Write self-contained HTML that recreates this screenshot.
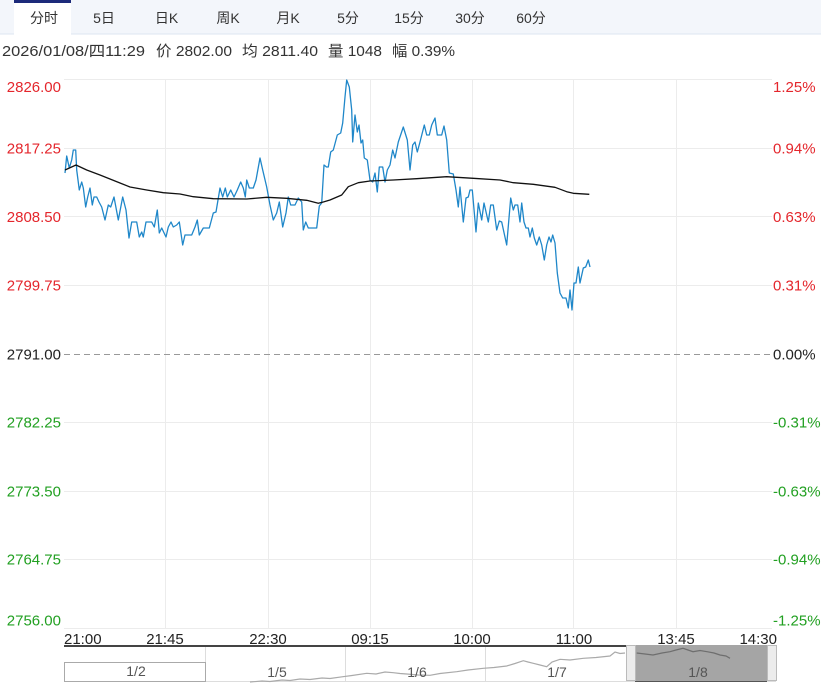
<!DOCTYPE html>
<html><head><meta charset="utf-8"><style>
html,body{margin:0;padding:0;background:#fff;}
svg{display:block;}
text{font-family:"Liberation Sans","Noto Sans CJK SC",sans-serif;}
</style></head><body>
<svg width="821" height="684" viewBox="0 0 821 684" xmlns="http://www.w3.org/2000/svg">
<!-- tab bar -->
<rect x="0" y="0" width="821" height="34" fill="#f3f6fb"/>
<line x1="0" y1="34" x2="821" y2="34" stroke="#dde5f0" stroke-width="1"/>
<rect x="14" y="0" width="57" height="35" fill="#fff"/>
<rect x="14" y="0" width="57" height="3" fill="#1c2a7a"/>
<g font-size="14" fill="#333" text-anchor="middle">
<text x="44" y="23">分时</text>
<text x="104" y="23">5日</text>
<text x="166.5" y="23">日K</text>
<text x="228" y="23">周K</text>
<text x="288" y="23">月K</text>
<text x="348" y="23">5分</text>
<text x="409" y="23">15分</text>
<text x="470" y="23">30分</text>
<text x="531" y="23">60分</text>
</g>
<!-- info line -->
<g font-size="15" fill="#333">
<text x="2" y="56" textLength="143" lengthAdjust="spacingAndGlyphs">2026/01/08/四11:29</text>
<text x="156" y="56" textLength="76" lengthAdjust="spacingAndGlyphs">价 2802.00</text>
<text x="242" y="56" textLength="76" lengthAdjust="spacingAndGlyphs">均 2811.40</text>
<text x="328" y="56" textLength="54" lengthAdjust="spacingAndGlyphs">量 1048</text>
<text x="392" y="56" textLength="63" lengthAdjust="spacingAndGlyphs">幅 0.39%</text>
</g>
<!-- grid -->
<g stroke="#ececec" stroke-width="1">
<line x1="64" y1="79.5" x2="772" y2="79.5"/>
<line x1="64" y1="148.5" x2="772" y2="148.5"/>
<line x1="64" y1="216.5" x2="772" y2="216.5"/>
<line x1="64" y1="285.5" x2="772" y2="285.5"/>
<line x1="64" y1="422.5" x2="772" y2="422.5"/>
<line x1="64" y1="491.5" x2="772" y2="491.5"/>
<line x1="64" y1="559.5" x2="772" y2="559.5"/>
<line x1="64" y1="628.5" x2="772" y2="628.5"/>
<line x1="165.5" y1="79" x2="165.5" y2="628"/>
<line x1="268.5" y1="79" x2="268.5" y2="628"/>
<line x1="370.5" y1="79" x2="370.5" y2="628"/>
<line x1="472.5" y1="79" x2="472.5" y2="628"/>
<line x1="573.5" y1="79" x2="573.5" y2="628"/>
<line x1="676.5" y1="79" x2="676.5" y2="628"/>
</g>
<line x1="64" y1="354.5" x2="772" y2="354.5" stroke="#999" stroke-width="1" stroke-dasharray="6,4"/>
<!-- left labels -->
<g font-size="15" text-anchor="end">
<text x="61" y="92" fill="#e4262c">2826.00</text>
<text x="61" y="153.5" fill="#e4262c">2817.25</text>
<text x="61" y="222" fill="#e4262c">2808.50</text>
<text x="61" y="290.5" fill="#e4262c">2799.75</text>
<text x="61" y="359.5" fill="#222">2791.00</text>
<text x="61" y="427.5" fill="#22a022">2782.25</text>
<text x="61" y="496.5" fill="#22a022">2773.50</text>
<text x="61" y="564.5" fill="#22a022">2764.75</text>
<text x="61" y="625.5" fill="#22a022">2756.00</text>
</g>
<g font-size="15">
<text x="773" y="92" fill="#e4262c">1.25%</text>
<text x="773" y="153.5" fill="#e4262c">0.94%</text>
<text x="773" y="222" fill="#e4262c">0.63%</text>
<text x="773" y="290.5" fill="#e4262c">0.31%</text>
<text x="773" y="359.5" fill="#222">0.00%</text>
<text x="773" y="427.5" fill="#22a022">-0.31%</text>
<text x="773" y="496.5" fill="#22a022">-0.63%</text>
<text x="773" y="564.5" fill="#22a022">-0.94%</text>
<text x="773" y="625.5" fill="#22a022">-1.25%</text>
</g>
<!-- series -->
<polyline fill="none" stroke="#1f87c9" stroke-width="1.3" stroke-linejoin="round" points="65,173 66.7,156 69.3,168 71.7,160 73.3,150 75.7,150 76.7,170 79.3,190 81.7,182 83.3,188 85.7,207 87.7,197 90,188 92.3,205 94,197 96.7,197 99,202 101.7,207 105,220 108.3,205 110.7,207 114,197 118.3,220 122.7,197 126,210 129,238 131.7,222 136.7,222 139.3,237 141.7,232 143.3,237 146,222 151.7,222 154.3,227 157.3,210 159.3,233 161.7,228 166,237 168.3,227 171,222 173.3,227 176.7,225 179.3,222 182.7,245 185,235 191.7,235 195,227 197.3,220 199.3,235 203.3,228 209.3,228 213.3,213 216,212 220,188 222.7,197 225.3,188 227.3,197 230.7,190 234,197 237.3,190 240.7,182 243.3,188 245.3,197 246.7,180 249.3,188 253.3,188 256,180 260,158 262.7,170 266.7,187 270,205 273.3,220 276.7,213 279.3,202 282.7,227 286,213 288.3,197 290.7,205 295,205 298.3,198 301.7,202 303.3,230 305.7,222 308.3,228 316.7,228 319.3,206 321.7,203 324,165 326.5,167 328.3,167 330.7,152 333.3,150 337.3,135 340.7,133 342.7,123 345,97 346.7,80 349.3,87 351.7,110 352.7,142 355,115 357.3,132 359,125 361,143 362.7,140 364.3,158 367.3,160 370,180 372.7,182 375,173 377.3,192 379.3,167 382.7,167 385,182 387.3,170 390,165 392.7,150 395,158 398.3,142 403.3,127 407.3,140 410,170 412.7,145 415,142 417.3,152 420,142 424.3,125 426.7,135 429.3,135 431.7,125 435,118 437.3,135 441.7,135 444,126 446.7,140 449.3,173 453.3,174 456,190 458.3,207 460,187 463.3,222 466,198 468.3,197 470,190 472.3,190 476,232 478.3,203 481.7,220 484,203 488.3,222 490.7,205 493.3,205 496.7,230 499.3,221 501.7,222 506.7,245 510.7,198 513.3,210 515,205 517.7,205 520,222 521.7,203 524,222 526,228 528.3,228 530,237 532.3,228 534.3,238 536.7,245 539.3,237 541.7,245 544.3,260 546.7,245 549,237 551,242 552.7,235 555,243 557.3,273 560,293 562.7,298 566,298 568.3,308 570,290 572,310 574,283 576,283 578.3,267 580,283 583.3,268 585.7,267 588.3,260 590,267"/>
<polyline fill="none" stroke="#111" stroke-width="1.3" stroke-linejoin="round" points="65,170 76,165 86.7,170 100,175 110,179 120,183 130,187 146.7,190 163.3,192.7 180,194 193.3,196.7 213.3,198.7 246.7,199 266.7,197.3 286.7,198.3 306.7,200.3 318.3,203.3 323.3,202 330,200 341.7,195 348.3,186.7 358.3,182.7 370,181 393.3,180 416.7,178.7 446.7,176.7 473.3,178.3 500,180 513.3,182.7 533.3,184.3 555,187.3 566.7,191.7 573.3,193.3 589.3,194.3"/>
<!-- x labels -->
<g font-size="15" fill="#222">
<text x="64" y="644">21:00</text>
<text x="165" y="644" text-anchor="middle">21:45</text>
<text x="268" y="644" text-anchor="middle">22:30</text>
<text x="370" y="644" text-anchor="middle">09:15</text>
<text x="472" y="644" text-anchor="middle">10:00</text>
<text x="574" y="644" text-anchor="middle">11:00</text>
<text x="676" y="644" text-anchor="middle">13:45</text>
<text x="777" y="644" text-anchor="end">14:30</text>
</g>
<!-- navigator -->
<line x1="64" y1="681.5" x2="776" y2="681.5" stroke="#ddd" stroke-width="1"/>
<g stroke="#ddd" stroke-width="1">
<line x1="205.5" y1="646" x2="205.5" y2="681"/>
<line x1="345.5" y1="646" x2="345.5" y2="681"/>
<line x1="485.5" y1="646" x2="485.5" y2="681"/>
</g>
<rect x="64.5" y="662.5" width="141" height="19" fill="none" stroke="#aaa" stroke-width="1"/>
<polyline fill="none" stroke="#aaa" stroke-width="1.2" points="250,682 262,681 270,681.5 282,680 290,680.5 300,679 310,679.5 322,678 330,678.5 343,676.7 352,675.5 366.7,673.3 376,674 385,672 393.3,672.7 400,673.5 406.7,674 418,675 430,675.3 440,673.5 456.7,671.7 468,670 483.3,668.3 494,667.5 506.7,666 515,663.5 523.3,660.7 528,662 533.3,663.3 540,665 546.7,666.7 552,662 560,659.3 570,660 583.3,658.3 596,657.5 610,656 615,652 620,653.5 625,653"/>
<rect x="635" y="645" width="132" height="36" fill="#a5a5a5"/>
<polyline fill="none" stroke="#6e6e6e" stroke-width="1.2" points="636.7,653 645,654 653,655 662,653 670,651.7 676,650 683,648.3 688,650 693,651.7 700,650.5 707,651.7 714,653 720,655 726,656 730,658.3"/>
<line x1="64" y1="646" x2="627" y2="646" stroke="#444" stroke-width="2"/>
<line x1="635" y1="681.5" x2="767" y2="681.5" stroke="#555" stroke-width="1"/>
<rect x="626.5" y="645.5" width="9" height="35" fill="#ececec" stroke="#bbb" stroke-width="1"/>
<rect x="767.5" y="645.5" width="9" height="35" fill="#ececec" stroke="#bbb" stroke-width="1"/>
<g font-size="14" fill="#555" text-anchor="middle">
<text x="136" y="676">1/2</text>
<text x="277" y="677">1/5</text>
<text x="417" y="677">1/6</text>
<text x="557" y="677">1/7</text>
<text x="698" y="677">1/8</text>
</g>
</svg>
</body></html>
